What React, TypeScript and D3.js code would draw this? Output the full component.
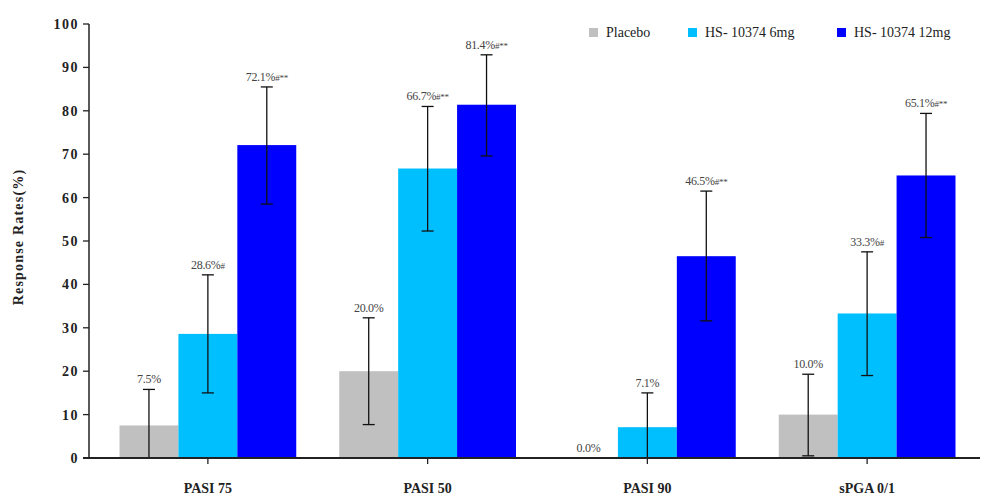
import React from "react";
import * as d3 from "d3";

const categories = ["PASI 75", "PASI 50", "PASI 90", "sPGA 0/1"];
const seriesNames = ["Placebo", "HS- 10374 6mg", "HS- 10374 12mg"];
const seriesColors = ["#c0c0c0", "#00bfff", "#0000ff"];
const placebo = [7.5, 20.0, 0.0, 10.0];
const dose6 = [28.6, 66.7, 7.1, 33.3];
const dose12 = [72.1, 81.4, 46.5, 65.1];
const placeboLow = [0, 7.7, 0, 0.5];
const placeboHigh = [15.8, 32.3, 0, 19.3];
const dose6Low = [15.0, 52.3, 0, 19.0];
const dose6High = [42.2, 81.0, 15.0, 47.5];
const dose12Low = [58.5, 69.6, 31.6, 50.8];
const dose12High = [85.5, 92.9, 61.5, 79.4];
const placeboMarks = ["", "", "", ""];
const dose6Marks = ["#", "#**", "", "#"];
const dose12Marks = ["#**", "#**", "#**", "#**"];
const yTicks = [0, 10, 20, 30, 40, 50, 60, 70, 80, 90, 100];

const W = 983;
const H = 502;
const FONT = "'Liberation Serif', 'DejaVu Serif', serif";

export default function App() {
  const x = d3.scaleBand<string>().domain(categories).range([98, 977]).paddingInner(0).paddingOuter(0);
  const inner = d3.scaleBand<number>().domain([0, 1, 2]).range([0, x.bandwidth()]).paddingOuter(0.365).paddingInner(0);
  const y = d3.scaleLinear().domain([0, 100]).range([458, 24]);
  const values = [placebo, dose6, dose12];
  const lows = [placeboLow, dose6Low, dose12Low];
  const highs = [placeboHigh, dose6High, dose12High];
  const marks = [placeboMarks, dose6Marks, dose12Marks];
  const fmt = d3.format(".1f");
  const axisX = 89;

  return (
    <svg width={W} height={H} style={{ position: "absolute", left: 0, top: 0, background: "#fff" }} fontFamily={FONT}>
      {categories.map((c, ci) =>
        values.map((vals, si) => {
          const bx = (x(c) as number) + (inner(si) as number);
          const bw = inner.bandwidth();
          return (
            <rect key={`b${ci}-${si}`} x={bx} y={y(vals[ci])} width={bw} height={y(0) - y(vals[ci])} fill={seriesColors[si]} />
          );
        })
      )}
      {categories.map((c, ci) =>
        values.map((vals, si) => {
          const cx = (x(c) as number) + (inner(si) as number) + inner.bandwidth() / 2;
          const lo = lows[si][ci];
          const hi = highs[si][ci];
          const hasBar = hi > lo;
          return (
            <g key={`e${ci}-${si}`}>
              {hasBar && (
                <g stroke="#111" strokeWidth={1.3}>
                  <line x1={cx} x2={cx} y1={y(lo)} y2={y(hi)} />
                  <line x1={cx - 6} x2={cx + 6} y1={y(hi)} y2={y(hi)} />
                  <line x1={cx - 6} x2={cx + 6} y1={y(lo)} y2={y(lo)} />
                </g>
              )}
              <text x={cx} y={y(hi) - 6} textAnchor="middle" fontSize={12} fill="#444" letterSpacing={-0.3}>
                {fmt(vals[ci])}%
                {marks[si][ci] && <tspan fontSize={9}>{marks[si][ci]}</tspan>}
              </text>
            </g>
          );
        })
      )}
      <line x1={axisX} x2={axisX} y1={y(100)} y2={y(0)} stroke="#222" strokeWidth={1.5} />
      {yTicks.map((t) => (
        <g key={`t${t}`}>
          <line x1={axisX - 6} x2={axisX} y1={y(t)} y2={y(t)} stroke="#222" strokeWidth={1.3} />
          <text x={axisX - 10} y={y(t)} dy="0.35em" textAnchor="end" fontSize={14} fontWeight="bold" fill="#222" letterSpacing={1.5}>
            {t}
          </text>
        </g>
      ))}
      <line x1={axisX - 6} x2={980} y1={y(0)} y2={y(0)} stroke="#222" strokeWidth={2.2} />
      {categories.map((c) => {
        const cx = (x(c) as number) + x.bandwidth() / 2;
        return (
          <g key={`x${c}`}>
            <line x1={cx} x2={cx} y1={y(0)} y2={y(0) + 6} stroke="#222" strokeWidth={1.3} />
            <text x={cx} y={493} textAnchor="middle" fontSize={14} fontWeight="bold" fill="#222">
              {c}
            </text>
          </g>
        );
      })}
      <text transform={`translate(23, 237) rotate(-90)`} textAnchor="middle" fontSize={14} fontWeight="bold" fill="#222" letterSpacing={1.2}>
        Response Rates(%)
      </text>
      {seriesNames.map((n, i) => {
        const lx = [589, 688, 837][i];
        return (
          <g key={`l${i}`}>
            <rect x={lx} y={28} width={9} height={9} fill={seriesColors[i]} />
            <text x={lx + 17} y={37} fontSize={14} fill="#222">
              {n}
            </text>
          </g>
        );
      })}
    </svg>
  );
}
